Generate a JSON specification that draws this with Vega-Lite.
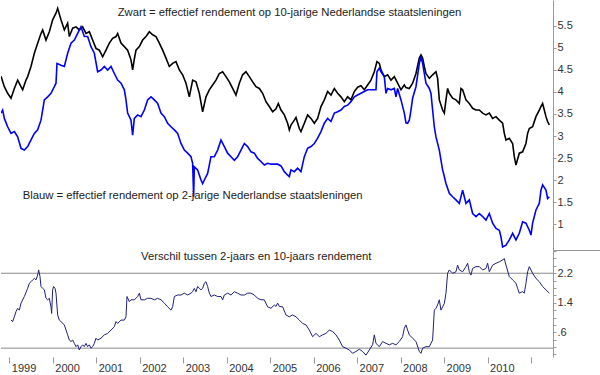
{
  "$schema": "https://vega.github.io/schema/vega-lite/v6.json",
  "padding": 0,
  "background": "white",
  "spacing": 0,
  "bounds": "flush",
  "config": {"view": {"stroke": null}, "font": "Liberation Sans"},
  "datasets": {
    "rendement": [
      {"reeks":"10-jarig","jaar":1998.809,"rendement":4.36},{"reeks":"10-jarig","jaar":1998.886,"rendement":4.12},{"reeks":"10-jarig","jaar":1998.962,"rendement":3.97},{"reeks":"10-jarig","jaar":1999.039,"rendement":3.86},{"reeks":"10-jarig","jaar":1999.116,"rendement":4.08},{"reeks":"10-jarig","jaar":1999.192,"rendement":4.27},{"reeks":"10-jarig","jaar":1999.269,"rendement":4.12},{"reeks":"10-jarig","jaar":1999.307,"rendement":4.05},{"reeks":"10-jarig","jaar":1999.384,"rendement":4.27},{"reeks":"10-jarig","jaar":1999.422,"rendement":4.35},{"reeks":"10-jarig","jaar":1999.499,"rendement":4.58},{"reeks":"10-jarig","jaar":1999.576,"rendement":4.88},{"reeks":"10-jarig","jaar":1999.652,"rendement":5.11},{"reeks":"10-jarig","jaar":1999.729,"rendement":5.33},{"reeks":"10-jarig","jaar":1999.767,"rendement":5.41},{"reeks":"10-jarig","jaar":1999.844,"rendement":5.18},{"reeks":"10-jarig","jaar":1999.921,"rendement":5.37},{"reeks":"10-jarig","jaar":1999.997,"rendement":5.64},{"reeks":"10-jarig","jaar":2000.074,"rendement":5.79},{"reeks":"10-jarig","jaar":2000.112,"rendement":5.9},{"reeks":"10-jarig","jaar":2000.189,"rendement":5.64},{"reeks":"10-jarig","jaar":2000.266,"rendement":5.41},{"reeks":"10-jarig","jaar":2000.342,"rendement":5.56},{"reeks":"10-jarig","jaar":2000.381,"rendement":5.26},{"reeks":"10-jarig","jaar":2000.457,"rendement":5.45},{"reeks":"10-jarig","jaar":2000.534,"rendement":5.48},{"reeks":"10-jarig","jaar":2000.611,"rendement":5.41},{"reeks":"10-jarig","jaar":2000.687,"rendement":5.48},{"reeks":"10-jarig","jaar":2000.764,"rendement":5.33},{"reeks":"10-jarig","jaar":2000.841,"rendement":5.37},{"reeks":"10-jarig","jaar":2000.917,"rendement":5.18},{"reeks":"10-jarig","jaar":2000.994,"rendement":4.99},{"reeks":"10-jarig","jaar":2001.071,"rendement":4.95},{"reeks":"10-jarig","jaar":2001.147,"rendement":4.8},{"reeks":"10-jarig","jaar":2001.224,"rendement":4.95},{"reeks":"10-jarig","jaar":2001.301,"rendement":5.11},{"reeks":"10-jarig","jaar":2001.377,"rendement":5.22},{"reeks":"10-jarig","jaar":2001.454,"rendement":5.26},{"reeks":"10-jarig","jaar":2001.492,"rendement":5.33},{"reeks":"10-jarig","jaar":2001.569,"rendement":5.11},{"reeks":"10-jarig","jaar":2001.646,"rendement":5.03},{"reeks":"10-jarig","jaar":2001.722,"rendement":4.95},{"reeks":"10-jarig","jaar":2001.799,"rendement":4.73},{"reeks":"10-jarig","jaar":2001.837,"rendement":4.5},{"reeks":"10-jarig","jaar":2001.876,"rendement":4.75},{"reeks":"10-jarig","jaar":2001.914,"rendement":4.95},{"reeks":"10-jarig","jaar":2001.991,"rendement":5.03},{"reeks":"10-jarig","jaar":2002.067,"rendement":5.18},{"reeks":"10-jarig","jaar":2002.144,"rendement":5.26},{"reeks":"10-jarig","jaar":2002.221,"rendement":5.37},{"reeks":"10-jarig","jaar":2002.297,"rendement":5.3},{"reeks":"10-jarig","jaar":2002.374,"rendement":5.26},{"reeks":"10-jarig","jaar":2002.451,"rendement":5.11},{"reeks":"10-jarig","jaar":2002.527,"rendement":4.95},{"reeks":"10-jarig","jaar":2002.604,"rendement":4.77},{"reeks":"10-jarig","jaar":2002.681,"rendement":4.58},{"reeks":"10-jarig","jaar":2002.757,"rendement":4.65},{"reeks":"10-jarig","jaar":2002.834,"rendement":4.69},{"reeks":"10-jarig","jaar":2002.911,"rendement":4.5},{"reeks":"10-jarig","jaar":2002.987,"rendement":4.39},{"reeks":"10-jarig","jaar":2003.064,"rendement":4.2},{"reeks":"10-jarig","jaar":2003.141,"rendement":3.89},{"reeks":"10-jarig","jaar":2003.217,"rendement":4.27},{"reeks":"10-jarig","jaar":2003.294,"rendement":4.23},{"reeks":"10-jarig","jaar":2003.371,"rendement":3.97},{"reeks":"10-jarig","jaar":2003.447,"rendement":3.55},{"reeks":"10-jarig","jaar":2003.524,"rendement":3.89},{"reeks":"10-jarig","jaar":2003.601,"rendement":4.05},{"reeks":"10-jarig","jaar":2003.677,"rendement":4.16},{"reeks":"10-jarig","jaar":2003.754,"rendement":4.27},{"reeks":"10-jarig","jaar":2003.831,"rendement":4.42},{"reeks":"10-jarig","jaar":2003.907,"rendement":4.46},{"reeks":"10-jarig","jaar":2003.984,"rendement":4.35},{"reeks":"10-jarig","jaar":2004.061,"rendement":4.23},{"reeks":"10-jarig","jaar":2004.137,"rendement":4.08},{"reeks":"10-jarig","jaar":2004.214,"rendement":3.93},{"reeks":"10-jarig","jaar":2004.291,"rendement":4.2},{"reeks":"10-jarig","jaar":2004.367,"rendement":4.39},{"reeks":"10-jarig","jaar":2004.444,"rendement":4.46},{"reeks":"10-jarig","jaar":2004.521,"rendement":4.35},{"reeks":"10-jarig","jaar":2004.597,"rendement":4.23},{"reeks":"10-jarig","jaar":2004.674,"rendement":4.12},{"reeks":"10-jarig","jaar":2004.751,"rendement":4.08},{"reeks":"10-jarig","jaar":2004.827,"rendement":3.97},{"reeks":"10-jarig","jaar":2004.904,"rendement":3.78},{"reeks":"10-jarig","jaar":2004.981,"rendement":3.67},{"reeks":"10-jarig","jaar":2005.057,"rendement":3.55},{"reeks":"10-jarig","jaar":2005.134,"rendement":3.62},{"reeks":"10-jarig","jaar":2005.188,"rendement":3.74},{"reeks":"10-jarig","jaar":2005.249,"rendement":3.59},{"reeks":"10-jarig","jaar":2005.326,"rendement":3.48},{"reeks":"10-jarig","jaar":2005.402,"rendement":3.29},{"reeks":"10-jarig","jaar":2005.441,"rendement":3.14},{"reeks":"10-jarig","jaar":2005.479,"rendement":3.25},{"reeks":"10-jarig","jaar":2005.556,"rendement":3.36},{"reeks":"10-jarig","jaar":2005.594,"rendement":3.42},{"reeks":"10-jarig","jaar":2005.671,"rendement":3.17},{"reeks":"10-jarig","jaar":2005.709,"rendement":3.1},{"reeks":"10-jarig","jaar":2005.786,"rendement":3.29},{"reeks":"10-jarig","jaar":2005.862,"rendement":3.48},{"reeks":"10-jarig","jaar":2005.939,"rendement":3.4},{"reeks":"10-jarig","jaar":2006.016,"rendement":3.29},{"reeks":"10-jarig","jaar":2006.092,"rendement":3.4},{"reeks":"10-jarig","jaar":2006.169,"rendement":3.67},{"reeks":"10-jarig","jaar":2006.246,"rendement":3.82},{"reeks":"10-jarig","jaar":2006.322,"rendement":4.01},{"reeks":"10-jarig","jaar":2006.399,"rendement":3.93},{"reeks":"10-jarig","jaar":2006.476,"rendement":4.08},{"reeks":"10-jarig","jaar":2006.552,"rendement":3.97},{"reeks":"10-jarig","jaar":2006.629,"rendement":3.89},{"reeks":"10-jarig","jaar":2006.706,"rendement":3.78},{"reeks":"10-jarig","jaar":2006.782,"rendement":3.89},{"reeks":"10-jarig","jaar":2006.859,"rendement":3.82},{"reeks":"10-jarig","jaar":2006.936,"rendement":4.01},{"reeks":"10-jarig","jaar":2007.012,"rendement":4.11},{"reeks":"10-jarig","jaar":2007.089,"rendement":4.14},{"reeks":"10-jarig","jaar":2007.166,"rendement":4.05},{"reeks":"10-jarig","jaar":2007.242,"rendement":4.16},{"reeks":"10-jarig","jaar":2007.319,"rendement":4.27},{"reeks":"10-jarig","jaar":2007.396,"rendement":4.46},{"reeks":"10-jarig","jaar":2007.457,"rendement":4.69},{"reeks":"10-jarig","jaar":2007.511,"rendement":4.65},{"reeks":"10-jarig","jaar":2007.549,"rendement":4.5},{"reeks":"10-jarig","jaar":2007.626,"rendement":4.35},{"reeks":"10-jarig","jaar":2007.702,"rendement":4.39},{"reeks":"10-jarig","jaar":2007.779,"rendement":4.27},{"reeks":"10-jarig","jaar":2007.856,"rendement":4.35},{"reeks":"10-jarig","jaar":2007.932,"rendement":4.2},{"reeks":"10-jarig","jaar":2008.009,"rendement":4.05},{"reeks":"10-jarig","jaar":2008.086,"rendement":4.16},{"reeks":"10-jarig","jaar":2008.124,"rendement":4.1},{"reeks":"10-jarig","jaar":2008.201,"rendement":4.08},{"reeks":"10-jarig","jaar":2008.277,"rendement":4.2},{"reeks":"10-jarig","jaar":2008.354,"rendement":4.42},{"reeks":"10-jarig","jaar":2008.431,"rendement":4.77},{"reeks":"10-jarig","jaar":2008.469,"rendement":4.84},{"reeks":"10-jarig","jaar":2008.507,"rendement":4.77},{"reeks":"10-jarig","jaar":2008.546,"rendement":4.58},{"reeks":"10-jarig","jaar":2008.584,"rendement":4.42},{"reeks":"10-jarig","jaar":2008.661,"rendement":4.31},{"reeks":"10-jarig","jaar":2008.737,"rendement":4.39},{"reeks":"10-jarig","jaar":2008.814,"rendement":4.46},{"reeks":"10-jarig","jaar":2008.852,"rendement":4.31},{"reeks":"10-jarig","jaar":2008.891,"rendement":3.82},{"reeks":"10-jarig","jaar":2008.967,"rendement":3.59},{"reeks":"10-jarig","jaar":2009.006,"rendement":3.52},{"reeks":"10-jarig","jaar":2009.044,"rendement":3.82},{"reeks":"10-jarig","jaar":2009.082,"rendement":4.08},{"reeks":"10-jarig","jaar":2009.121,"rendement":3.97},{"reeks":"10-jarig","jaar":2009.197,"rendement":3.86},{"reeks":"10-jarig","jaar":2009.274,"rendement":3.82},{"reeks":"10-jarig","jaar":2009.351,"rendement":3.74},{"reeks":"10-jarig","jaar":2009.389,"rendement":4.08},{"reeks":"10-jarig","jaar":2009.427,"rendement":4.05},{"reeks":"10-jarig","jaar":2009.504,"rendement":3.82},{"reeks":"10-jarig","jaar":2009.581,"rendement":3.74},{"reeks":"10-jarig","jaar":2009.657,"rendement":3.63},{"reeks":"10-jarig","jaar":2009.734,"rendement":3.59},{"reeks":"10-jarig","jaar":2009.811,"rendement":3.59},{"reeks":"10-jarig","jaar":2009.887,"rendement":3.52},{"reeks":"10-jarig","jaar":2009.964,"rendement":3.48},{"reeks":"10-jarig","jaar":2010.041,"rendement":3.52},{"reeks":"10-jarig","jaar":2010.117,"rendement":3.4},{"reeks":"10-jarig","jaar":2010.194,"rendement":3.44},{"reeks":"10-jarig","jaar":2010.271,"rendement":3.36},{"reeks":"10-jarig","jaar":2010.347,"rendement":3.29},{"reeks":"10-jarig","jaar":2010.386,"rendement":3.06},{"reeks":"10-jarig","jaar":2010.424,"rendement":2.91},{"reeks":"10-jarig","jaar":2010.501,"rendement":2.95},{"reeks":"10-jarig","jaar":2010.577,"rendement":2.83},{"reeks":"10-jarig","jaar":2010.616,"rendement":2.53},{"reeks":"10-jarig","jaar":2010.654,"rendement":2.34},{"reeks":"10-jarig","jaar":2010.731,"rendement":2.61},{"reeks":"10-jarig","jaar":2010.807,"rendement":2.64},{"reeks":"10-jarig","jaar":2010.884,"rendement":2.83},{"reeks":"10-jarig","jaar":2010.922,"rendement":3.06},{"reeks":"10-jarig","jaar":2010.961,"rendement":3.17},{"reeks":"10-jarig","jaar":2011.037,"rendement":3.21},{"reeks":"10-jarig","jaar":2011.114,"rendement":3.44},{"reeks":"10-jarig","jaar":2011.191,"rendement":3.59},{"reeks":"10-jarig","jaar":2011.229,"rendement":3.67},{"reeks":"10-jarig","jaar":2011.267,"rendement":3.74},{"reeks":"10-jarig","jaar":2011.306,"rendement":3.59},{"reeks":"10-jarig","jaar":2011.344,"rendement":3.44},{"reeks":"10-jarig","jaar":2011.382,"rendement":3.33},{"reeks":"10-jarig","jaar":2011.421,"rendement":3.25},
      {"reeks":"2-jarig","jaar":1998.809,"rendement":3.52},{"reeks":"2-jarig","jaar":1998.847,"rendement":3.59},{"reeks":"2-jarig","jaar":1998.886,"rendement":3.4},{"reeks":"2-jarig","jaar":1998.962,"rendement":3.21},{"reeks":"2-jarig","jaar":1999.039,"rendement":3.06},{"reeks":"2-jarig","jaar":1999.116,"rendement":3.1},{"reeks":"2-jarig","jaar":1999.192,"rendement":2.98},{"reeks":"2-jarig","jaar":1999.269,"rendement":2.72},{"reeks":"2-jarig","jaar":1999.346,"rendement":2.68},{"reeks":"2-jarig","jaar":1999.422,"rendement":2.76},{"reeks":"2-jarig","jaar":1999.499,"rendement":2.91},{"reeks":"2-jarig","jaar":1999.576,"rendement":3.06},{"reeks":"2-jarig","jaar":1999.652,"rendement":3.14},{"reeks":"2-jarig","jaar":1999.729,"rendement":3.36},{"reeks":"2-jarig","jaar":1999.806,"rendement":3.82},{"reeks":"2-jarig","jaar":1999.882,"rendement":3.89},{"reeks":"2-jarig","jaar":1999.959,"rendement":3.97},{"reeks":"2-jarig","jaar":2000.036,"rendement":4.12},{"reeks":"2-jarig","jaar":2000.074,"rendement":4.2},{"reeks":"2-jarig","jaar":2000.097,"rendement":4.65},{"reeks":"2-jarig","jaar":2000.189,"rendement":4.61},{"reeks":"2-jarig","jaar":2000.266,"rendement":4.58},{"reeks":"2-jarig","jaar":2000.342,"rendement":4.88},{"reeks":"2-jarig","jaar":2000.419,"rendement":5.11},{"reeks":"2-jarig","jaar":2000.496,"rendement":5.18},{"reeks":"2-jarig","jaar":2000.572,"rendement":5.33},{"reeks":"2-jarig","jaar":2000.649,"rendement":5.48},{"reeks":"2-jarig","jaar":2000.726,"rendement":5.26},{"reeks":"2-jarig","jaar":2000.802,"rendement":5.26},{"reeks":"2-jarig","jaar":2000.879,"rendement":5.03},{"reeks":"2-jarig","jaar":2000.956,"rendement":4.88},{"reeks":"2-jarig","jaar":2001.032,"rendement":4.46},{"reeks":"2-jarig","jaar":2001.109,"rendement":4.5},{"reeks":"2-jarig","jaar":2001.186,"rendement":4.58},{"reeks":"2-jarig","jaar":2001.262,"rendement":4.5},{"reeks":"2-jarig","jaar":2001.339,"rendement":4.58},{"reeks":"2-jarig","jaar":2001.416,"rendement":4.42},{"reeks":"2-jarig","jaar":2001.492,"rendement":4.27},{"reeks":"2-jarig","jaar":2001.569,"rendement":4.2},{"reeks":"2-jarig","jaar":2001.646,"rendement":4.05},{"reeks":"2-jarig","jaar":2001.684,"rendement":3.82},{"reeks":"2-jarig","jaar":2001.722,"rendement":3.52},{"reeks":"2-jarig","jaar":2001.799,"rendement":3.36},{"reeks":"2-jarig","jaar":2001.837,"rendement":3.02},{"reeks":"2-jarig","jaar":2001.876,"rendement":3.4},{"reeks":"2-jarig","jaar":2001.952,"rendement":3.48},{"reeks":"2-jarig","jaar":2002.029,"rendement":3.44},{"reeks":"2-jarig","jaar":2002.106,"rendement":3.59},{"reeks":"2-jarig","jaar":2002.182,"rendement":3.82},{"reeks":"2-jarig","jaar":2002.259,"rendement":3.89},{"reeks":"2-jarig","jaar":2002.336,"rendement":3.82},{"reeks":"2-jarig","jaar":2002.412,"rendement":3.74},{"reeks":"2-jarig","jaar":2002.489,"rendement":3.52},{"reeks":"2-jarig","jaar":2002.566,"rendement":3.44},{"reeks":"2-jarig","jaar":2002.642,"rendement":3.29},{"reeks":"2-jarig","jaar":2002.719,"rendement":3.21},{"reeks":"2-jarig","jaar":2002.796,"rendement":3.14},{"reeks":"2-jarig","jaar":2002.872,"rendement":3.06},{"reeks":"2-jarig","jaar":2002.949,"rendement":2.83},{"reeks":"2-jarig","jaar":2003.026,"rendement":2.68},{"reeks":"2-jarig","jaar":2003.102,"rendement":2.61},{"reeks":"2-jarig","jaar":2003.179,"rendement":2.53},{"reeks":"2-jarig","jaar":2003.217,"rendement":2.38},{"reeks":"2-jarig","jaar":2003.24,"rendement":1.62},{"reeks":"2-jarig","jaar":2003.256,"rendement":2.3},{"reeks":"2-jarig","jaar":2003.332,"rendement":2.23},{"reeks":"2-jarig","jaar":2003.409,"rendement":2.0},{"reeks":"2-jarig","jaar":2003.447,"rendement":1.92},{"reeks":"2-jarig","jaar":2003.486,"rendement":2.0},{"reeks":"2-jarig","jaar":2003.562,"rendement":2.15},{"reeks":"2-jarig","jaar":2003.639,"rendement":2.53},{"reeks":"2-jarig","jaar":2003.716,"rendement":2.53},{"reeks":"2-jarig","jaar":2003.792,"rendement":2.68},{"reeks":"2-jarig","jaar":2003.869,"rendement":2.91},{"reeks":"2-jarig","jaar":2003.946,"rendement":2.76},{"reeks":"2-jarig","jaar":2004.022,"rendement":2.61},{"reeks":"2-jarig","jaar":2004.099,"rendement":2.53},{"reeks":"2-jarig","jaar":2004.176,"rendement":2.45},{"reeks":"2-jarig","jaar":2004.252,"rendement":2.53},{"reeks":"2-jarig","jaar":2004.329,"rendement":2.68},{"reeks":"2-jarig","jaar":2004.406,"rendement":2.83},{"reeks":"2-jarig","jaar":2004.482,"rendement":2.76},{"reeks":"2-jarig","jaar":2004.559,"rendement":2.64},{"reeks":"2-jarig","jaar":2004.636,"rendement":2.61},{"reeks":"2-jarig","jaar":2004.712,"rendement":2.49},{"reeks":"2-jarig","jaar":2004.789,"rendement":2.42},{"reeks":"2-jarig","jaar":2004.866,"rendement":2.34},{"reeks":"2-jarig","jaar":2004.942,"rendement":2.38},{"reeks":"2-jarig","jaar":2005.019,"rendement":2.36},{"reeks":"2-jarig","jaar":2005.096,"rendement":2.36},{"reeks":"2-jarig","jaar":2005.172,"rendement":2.36},{"reeks":"2-jarig","jaar":2005.249,"rendement":2.32},{"reeks":"2-jarig","jaar":2005.326,"rendement":2.19},{"reeks":"2-jarig","jaar":2005.402,"rendement":2.11},{"reeks":"2-jarig","jaar":2005.441,"rendement":2.08},{"reeks":"2-jarig","jaar":2005.479,"rendement":2.23},{"reeks":"2-jarig","jaar":2005.556,"rendement":2.19},{"reeks":"2-jarig","jaar":2005.632,"rendement":2.27},{"reeks":"2-jarig","jaar":2005.709,"rendement":2.19},{"reeks":"2-jarig","jaar":2005.786,"rendement":2.53},{"reeks":"2-jarig","jaar":2005.862,"rendement":2.72},{"reeks":"2-jarig","jaar":2005.939,"rendement":2.76},{"reeks":"2-jarig","jaar":2006.016,"rendement":2.83},{"reeks":"2-jarig","jaar":2006.092,"rendement":2.95},{"reeks":"2-jarig","jaar":2006.169,"rendement":3.1},{"reeks":"2-jarig","jaar":2006.246,"rendement":3.29},{"reeks":"2-jarig","jaar":2006.322,"rendement":3.4},{"reeks":"2-jarig","jaar":2006.399,"rendement":3.33},{"reeks":"2-jarig","jaar":2006.476,"rendement":3.52},{"reeks":"2-jarig","jaar":2006.552,"rendement":3.55},{"reeks":"2-jarig","jaar":2006.629,"rendement":3.59},{"reeks":"2-jarig","jaar":2006.706,"rendement":3.67},{"reeks":"2-jarig","jaar":2006.782,"rendement":3.7},{"reeks":"2-jarig","jaar":2006.859,"rendement":3.78},{"reeks":"2-jarig","jaar":2006.936,"rendement":3.89},{"reeks":"2-jarig","jaar":2007.012,"rendement":3.93},{"reeks":"2-jarig","jaar":2007.089,"rendement":3.97},{"reeks":"2-jarig","jaar":2007.166,"rendement":4.01},{"reeks":"2-jarig","jaar":2007.242,"rendement":4.05},{"reeks":"2-jarig","jaar":2007.434,"rendement":4.05},{"reeks":"2-jarig","jaar":2007.457,"rendement":4.46},{"reeks":"2-jarig","jaar":2007.511,"rendement":4.54},{"reeks":"2-jarig","jaar":2007.549,"rendement":4.46},{"reeks":"2-jarig","jaar":2007.626,"rendement":4.35},{"reeks":"2-jarig","jaar":2007.664,"rendement":3.97},{"reeks":"2-jarig","jaar":2007.702,"rendement":4.08},{"reeks":"2-jarig","jaar":2007.779,"rendement":4.05},{"reeks":"2-jarig","jaar":2007.856,"rendement":4.08},{"reeks":"2-jarig","jaar":2007.894,"rendement":3.89},{"reeks":"2-jarig","jaar":2007.932,"rendement":4.08},{"reeks":"2-jarig","jaar":2008.009,"rendement":3.82},{"reeks":"2-jarig","jaar":2008.086,"rendement":3.52},{"reeks":"2-jarig","jaar":2008.124,"rendement":3.3},{"reeks":"2-jarig","jaar":2008.162,"rendement":3.29},{"reeks":"2-jarig","jaar":2008.201,"rendement":3.36},{"reeks":"2-jarig","jaar":2008.239,"rendement":3.59},{"reeks":"2-jarig","jaar":2008.277,"rendement":3.86},{"reeks":"2-jarig","jaar":2008.354,"rendement":4.12},{"reeks":"2-jarig","jaar":2008.431,"rendement":4.65},{"reeks":"2-jarig","jaar":2008.469,"rendement":4.8},{"reeks":"2-jarig","jaar":2008.507,"rendement":4.65},{"reeks":"2-jarig","jaar":2008.584,"rendement":4.2},{"reeks":"2-jarig","jaar":2008.661,"rendement":4.08},{"reeks":"2-jarig","jaar":2008.699,"rendement":3.97},{"reeks":"2-jarig","jaar":2008.737,"rendement":3.59},{"reeks":"2-jarig","jaar":2008.776,"rendement":3.21},{"reeks":"2-jarig","jaar":2008.814,"rendement":2.98},{"reeks":"2-jarig","jaar":2008.891,"rendement":2.68},{"reeks":"2-jarig","jaar":2008.929,"rendement":2.45},{"reeks":"2-jarig","jaar":2008.967,"rendement":2.23},{"reeks":"2-jarig","jaar":2009.006,"rendement":2.08},{"reeks":"2-jarig","jaar":2009.044,"rendement":1.92},{"reeks":"2-jarig","jaar":2009.121,"rendement":1.7},{"reeks":"2-jarig","jaar":2009.197,"rendement":1.62},{"reeks":"2-jarig","jaar":2009.274,"rendement":1.55},{"reeks":"2-jarig","jaar":2009.351,"rendement":1.47},{"reeks":"2-jarig","jaar":2009.427,"rendement":1.77},{"reeks":"2-jarig","jaar":2009.466,"rendement":1.62},{"reeks":"2-jarig","jaar":2009.504,"rendement":1.47},{"reeks":"2-jarig","jaar":2009.581,"rendement":1.55},{"reeks":"2-jarig","jaar":2009.657,"rendement":1.24},{"reeks":"2-jarig","jaar":2009.734,"rendement":1.17},{"reeks":"2-jarig","jaar":2009.811,"rendement":1.24},{"reeks":"2-jarig","jaar":2009.887,"rendement":1.17},{"reeks":"2-jarig","jaar":2009.964,"rendement":1.09},{"reeks":"2-jarig","jaar":2010.041,"rendement":1.24},{"reeks":"2-jarig","jaar":2010.117,"rendement":1.02},{"reeks":"2-jarig","jaar":2010.194,"rendement":0.9},{"reeks":"2-jarig","jaar":2010.271,"rendement":0.86},{"reeks":"2-jarig","jaar":2010.309,"rendement":0.71},{"reeks":"2-jarig","jaar":2010.347,"rendement":0.48},{"reeks":"2-jarig","jaar":2010.424,"rendement":0.52},{"reeks":"2-jarig","jaar":2010.501,"rendement":0.64},{"reeks":"2-jarig","jaar":2010.577,"rendement":0.79},{"reeks":"2-jarig","jaar":2010.654,"rendement":0.64},{"reeks":"2-jarig","jaar":2010.731,"rendement":0.79},{"reeks":"2-jarig","jaar":2010.807,"rendement":1.05},{"reeks":"2-jarig","jaar":2010.884,"rendement":1.02},{"reeks":"2-jarig","jaar":2010.961,"rendement":0.86},{"reeks":"2-jarig","jaar":2010.999,"rendement":0.75},{"reeks":"2-jarig","jaar":2011.037,"rendement":1.02},{"reeks":"2-jarig","jaar":2011.114,"rendement":1.32},{"reeks":"2-jarig","jaar":2011.191,"rendement":1.47},{"reeks":"2-jarig","jaar":2011.229,"rendement":1.77},{"reeks":"2-jarig","jaar":2011.267,"rendement":1.89},{"reeks":"2-jarig","jaar":2011.344,"rendement":1.77},{"reeks":"2-jarig","jaar":2011.382,"rendement":1.58},{"reeks":"2-jarig","jaar":2011.421,"rendement":1.62}
    ],
    "verschil": [
      {"jaar":1999.039,"verschil":0.93},{"jaar":1999.077,"verschil":0.89},{"jaar":1999.116,"verschil":1.02},{"jaar":1999.154,"verschil":1.16},{"jaar":1999.192,"verschil":1.25},{"jaar":1999.231,"verschil":1.2},{"jaar":1999.269,"verschil":1.39},{"jaar":1999.346,"verschil":1.57},{"jaar":1999.422,"verschil":1.79},{"jaar":1999.461,"verschil":1.93},{"jaar":1999.499,"verschil":1.97},{"jaar":1999.537,"verschil":2.02},{"jaar":1999.576,"verschil":2.06},{"jaar":1999.614,"verschil":2.02},{"jaar":1999.652,"verschil":2.15},{"jaar":1999.675,"verschil":2.29},{"jaar":1999.706,"verschil":2.11},{"jaar":1999.729,"verschil":1.84},{"jaar":1999.767,"verschil":1.79},{"jaar":1999.806,"verschil":1.75},{"jaar":1999.844,"verschil":1.52},{"jaar":1999.882,"verschil":1.48},{"jaar":1999.921,"verschil":1.52},{"jaar":1999.959,"verschil":1.29},{"jaar":1999.974,"verschil":1.11},{"jaar":1999.997,"verschil":1.75},{"jaar":2000.02,"verschil":1.84},{"jaar":2000.051,"verschil":1.79},{"jaar":2000.074,"verschil":1.66},{"jaar":2000.112,"verschil":1.07},{"jaar":2000.151,"verschil":0.93},{"jaar":2000.189,"verschil":0.89},{"jaar":2000.266,"verschil":0.8},{"jaar":2000.342,"verschil":0.53},{"jaar":2000.381,"verschil":0.39},{"jaar":2000.419,"verschil":0.35},{"jaar":2000.457,"verschil":0.39},{"jaar":2000.496,"verschil":0.3},{"jaar":2000.534,"verschil":0.21},{"jaar":2000.572,"verschil":0.26},{"jaar":2000.611,"verschil":0.12},{"jaar":2000.649,"verschil":0.21},{"jaar":2000.687,"verschil":0.26},{"jaar":2000.726,"verschil":0.21},{"jaar":2000.764,"verschil":0.3},{"jaar":2000.802,"verschil":0.21},{"jaar":2000.841,"verschil":0.26},{"jaar":2000.879,"verschil":0.17},{"jaar":2000.917,"verschil":0.21},{"jaar":2000.956,"verschil":0.3},{"jaar":2000.994,"verschil":0.44},{"jaar":2001.032,"verschil":0.39},{"jaar":2001.109,"verschil":0.44},{"jaar":2001.186,"verschil":0.53},{"jaar":2001.262,"verschil":0.57},{"jaar":2001.339,"verschil":0.66},{"jaar":2001.416,"verschil":0.75},{"jaar":2001.454,"verschil":0.89},{"jaar":2001.492,"verschil":0.84},{"jaar":2001.569,"verschil":0.93},{"jaar":2001.646,"verschil":0.93},{"jaar":2001.684,"verschil":1.02},{"jaar":2001.707,"verschil":1.57},{"jaar":2001.761,"verschil":1.43},{"jaar":2001.799,"verschil":1.48},{"jaar":2001.876,"verschil":1.48},{"jaar":2001.952,"verschil":1.57},{"jaar":2001.991,"verschil":1.66},{"jaar":2002.029,"verschil":1.48},{"jaar":2002.106,"verschil":1.48},{"jaar":2002.182,"verschil":1.52},{"jaar":2002.259,"verschil":1.52},{"jaar":2002.336,"verschil":1.48},{"jaar":2002.412,"verschil":1.52},{"jaar":2002.489,"verschil":1.48},{"jaar":2002.566,"verschil":1.39},{"jaar":2002.642,"verschil":1.29},{"jaar":2002.719,"verschil":1.2},{"jaar":2002.757,"verschil":1.29},{"jaar":2002.796,"verschil":1.57},{"jaar":2002.872,"verschil":1.61},{"jaar":2002.949,"verschil":1.61},{"jaar":2003.026,"verschil":1.66},{"jaar":2003.102,"verschil":1.61},{"jaar":2003.179,"verschil":1.66},{"jaar":2003.217,"verschil":1.7},{"jaar":2003.256,"verschil":1.79},{"jaar":2003.294,"verschil":1.7},{"jaar":2003.332,"verschil":1.84},{"jaar":2003.409,"verschil":1.75},{"jaar":2003.447,"verschil":1.79},{"jaar":2003.486,"verschil":1.93},{"jaar":2003.524,"verschil":1.97},{"jaar":2003.562,"verschil":1.84},{"jaar":2003.601,"verschil":1.66},{"jaar":2003.639,"verschil":1.57},{"jaar":2003.716,"verschil":1.61},{"jaar":2003.792,"verschil":1.57},{"jaar":2003.869,"verschil":1.57},{"jaar":2003.907,"verschil":1.48},{"jaar":2003.946,"verschil":1.61},{"jaar":2004.022,"verschil":1.66},{"jaar":2004.099,"verschil":1.61},{"jaar":2004.176,"verschil":1.7},{"jaar":2004.252,"verschil":1.66},{"jaar":2004.329,"verschil":1.61},{"jaar":2004.406,"verschil":1.61},{"jaar":2004.482,"verschil":1.66},{"jaar":2004.559,"verschil":1.66},{"jaar":2004.636,"verschil":1.61},{"jaar":2004.712,"verschil":1.52},{"jaar":2004.789,"verschil":1.48},{"jaar":2004.866,"verschil":1.48},{"jaar":2004.942,"verschil":1.29},{"jaar":2005.019,"verschil":1.25},{"jaar":2005.096,"verschil":1.34},{"jaar":2005.134,"verschil":1.3},{"jaar":2005.172,"verschil":1.39},{"jaar":2005.211,"verschil":1.3},{"jaar":2005.287,"verschil":1.29},{"jaar":2005.364,"verschil":1.07},{"jaar":2005.441,"verschil":1.02},{"jaar":2005.517,"verschil":1.07},{"jaar":2005.594,"verschil":1.02},{"jaar":2005.671,"verschil":0.93},{"jaar":2005.747,"verschil":0.84},{"jaar":2005.824,"verschil":0.8},{"jaar":2005.901,"verschil":0.66},{"jaar":2005.977,"verschil":0.48},{"jaar":2006.054,"verschil":0.57},{"jaar":2006.131,"verschil":0.48},{"jaar":2006.207,"verschil":0.53},{"jaar":2006.284,"verschil":0.57},{"jaar":2006.361,"verschil":0.66},{"jaar":2006.437,"verschil":0.62},{"jaar":2006.514,"verschil":0.53},{"jaar":2006.591,"verschil":0.39},{"jaar":2006.667,"verschil":0.21},{"jaar":2006.744,"verschil":0.17},{"jaar":2006.821,"verschil":0.12},{"jaar":2006.897,"verschil":0.03},{"jaar":2006.974,"verschil":0.08},{"jaar":2007.051,"verschil":0.14},{"jaar":2007.127,"verschil":0.08},{"jaar":2007.204,"verschil":-0.02},{"jaar":2007.281,"verschil":0.12},{"jaar":2007.357,"verschil":0.26},{"jaar":2007.396,"verschil":0.53},{"jaar":2007.434,"verschil":0.3},{"jaar":2007.511,"verschil":0.21},{"jaar":2007.587,"verschil":0.35},{"jaar":2007.664,"verschil":0.3},{"jaar":2007.741,"verschil":0.26},{"jaar":2007.817,"verschil":0.3},{"jaar":2007.894,"verschil":0.26},{"jaar":2007.971,"verschil":0.35},{"jaar":2008.047,"verschil":0.48},{"jaar":2008.086,"verschil":0.71},{"jaar":2008.124,"verschil":0.8},{"jaar":2008.162,"verschil":0.66},{"jaar":2008.201,"verschil":0.53},{"jaar":2008.277,"verschil":0.44},{"jaar":2008.354,"verschil":0.35},{"jaar":2008.431,"verschil":0.08},{"jaar":2008.469,"verschil":0.03},{"jaar":2008.507,"verschil":0.17},{"jaar":2008.584,"verschil":0.21},{"jaar":2008.661,"verschil":0.21},{"jaar":2008.737,"verschil":0.39},{"jaar":2008.776,"verschil":1.2},{"jaar":2008.814,"verschil":1.25},{"jaar":2008.852,"verschil":1.34},{"jaar":2008.891,"verschil":1.48},{"jaar":2008.929,"verschil":1.2},{"jaar":2008.967,"verschil":1.29},{"jaar":2009.006,"verschil":1.38},{"jaar":2009.044,"verschil":1.66},{"jaar":2009.082,"verschil":2.2},{"jaar":2009.121,"verschil":2.29},{"jaar":2009.197,"verschil":2.2},{"jaar":2009.274,"verschil":2.24},{"jaar":2009.312,"verschil":2.42},{"jaar":2009.351,"verschil":2.29},{"jaar":2009.427,"verschil":2.24},{"jaar":2009.504,"verschil":2.38},{"jaar":2009.542,"verschil":2.47},{"jaar":2009.581,"verschil":2.24},{"jaar":2009.619,"verschil":2.15},{"jaar":2009.657,"verschil":2.33},{"jaar":2009.734,"verschil":2.38},{"jaar":2009.811,"verschil":2.38},{"jaar":2009.887,"verschil":2.29},{"jaar":2009.964,"verschil":2.33},{"jaar":2010.002,"verschil":2.47},{"jaar":2010.041,"verschil":2.24},{"jaar":2010.117,"verschil":2.42},{"jaar":2010.194,"verschil":2.47},{"jaar":2010.271,"verschil":2.51},{"jaar":2010.347,"verschil":2.56},{"jaar":2010.386,"verschil":2.6},{"jaar":2010.424,"verschil":2.42},{"jaar":2010.501,"verschil":2.11},{"jaar":2010.577,"verschil":2.02},{"jaar":2010.654,"verschil":1.93},{"jaar":2010.692,"verschil":1.79},{"jaar":2010.731,"verschil":1.66},{"jaar":2010.807,"verschil":1.7},{"jaar":2010.846,"verschil":1.66},{"jaar":2010.884,"verschil":1.93},{"jaar":2010.922,"verschil":2.24},{"jaar":2010.961,"verschil":2.38},{"jaar":2011.037,"verschil":2.2},{"jaar":2011.114,"verschil":2.06},{"jaar":2011.191,"verschil":1.97},{"jaar":2011.267,"verschil":1.84},{"jaar":2011.344,"verschil":1.75},{"jaar":2011.421,"verschil":1.66}
    ],
    "teksten": [
      {"paneel":"boven","jaar":2001.493,"waarde":5.8,"tekst":"Zwart = effectief rendement op 10-jarige Nederlandse staatsleningen"},
      {"paneel":"boven","jaar":1999.308,"waarde":1.636,"tekst":"Blauw = effectief rendement op 2-jarige Nederlandse staatsleningen"},
      {"paneel":"onder","jaar":2002.029,"waarde":2.649,"tekst":"Verschil tussen 2-jaars en 10-jaars rendement"}
    ],
    "lijnen": [{"niveau":2.2},{"niveau":0.17}]
  },
  "vconcat": [
    {
      "width": 552,
      "height": 250,
      "layer": [
        {
          "data": {"name": "rendement"},
          "mark": {"type": "line", "strokeWidth": 1.6, "clip": true},
          "encoding": {
            "x": {"field": "jaar", "type": "quantitative", "scale": {"domain": [1998.809, 2011.506], "nice": false, "zero": false}, "axis": null},
            "y": {"field": "rendement", "type": "quantitative", "scale": {"domain": [0.41, 6.09], "nice": false, "zero": false},
                  "axis": {"orient": "right", "values": [1,1.5,2,2.5,3,3.5,4,4.5,5,5.5], "tickCount": 1000, "format": "~g", "title": null, "grid": false,
                           "domainColor": "#999999", "tickColor": "#999999", "tickSize": 3, "labelPadding": 1, "labelOverlap": false,
                           "labelFontSize": 11, "labelColor": "#333333", "labelFont": "Liberation Sans"}},
            "color": {"field": "reeks", "type": "nominal", "scale": {"domain": ["10-jarig", "2-jarig"], "range": ["#000000", "#0000ff"]}, "legend": null}
          }
        },
        {
          "data": {"name": "teksten"},
          "transform": [{"filter": "datum.paneel == 'boven'"}],
          "mark": {"type": "text", "align": "left", "baseline": "middle", "fontSize": 11.3, "font": "Liberation Sans", "color": "#222222"},
          "encoding": {
            "x": {"field": "jaar", "type": "quantitative", "scale": {"domain": [1998.809, 2011.506], "nice": false, "zero": false}},
            "y": {"field": "waarde", "type": "quantitative", "scale": {"domain": [0.41, 6.09], "nice": false, "zero": false}},
            "text": {"field": "tekst"}
          }
        }
      ]
    },
    {
      "width": 552,
      "height": 107,
      "layer": [
        {
          "data": {"name": "lijnen"},
          "mark": {"type": "rule", "color": "#888888", "strokeWidth": 1},
          "encoding": {
            "y": {"field": "niveau", "type": "quantitative", "scale": {"domain": [-0.07, 2.83], "nice": false, "zero": false}}
          }
        },
        {
          "data": {"name": "verschil"},
          "mark": {"type": "line", "strokeWidth": 1, "color": "#1f1f7a", "clip": true},
          "encoding": {
            "x": {"field": "jaar", "type": "quantitative", "scale": {"domain": [1998.809, 2011.506], "nice": false, "zero": false},
                  "axis": {"orient": "bottom", "values": [1999,2000,2001,2002,2003,2004,2005,2006,2007,2008,2009,2010,2011], "tickCount": 1000,
                           "labelExpr": "datum.value == 2011 ? '' : format(datum.value, 'd')", "title": null, "grid": false, "domain": false,
                           "tickColor": "#999999", "tickSize": 6, "labelAlign": "left", "labelBaseline": "top", "labelPadding": -1, "labelOffset": 2,
                           "labelFontSize": 11, "labelColor": "#333333", "labelFont": "Liberation Sans", "labelFlush": false, "labelOverlap": false}},
            "y": {"field": "verschil", "type": "quantitative", "scale": {"domain": [-0.07, 2.83], "nice": false, "zero": false},
                  "axis": {"orient": "right", "values": [0,0.2,0.4,0.6,0.8,1,1.2,1.4,1.6,1.8,2,2.2,2.4,2.6,2.8,2.83], "tickCount": 1000,
                           "labelExpr": "abs(datum.value - 0.6) < 0.01 ? '.6' : abs(datum.value - 1.4) < 0.01 ? '1.4' : abs(datum.value - 2.2) < 0.01 ? '2.2' : ''",
                           "title": null, "grid": false, "domainColor": "#999999", "tickColor": "#999999",
                           "tickSize": {"condition": {"test": "datum.value > 2.82", "value": 48}, "value": 3},
                           "labelPadding": 1, "labelFontSize": 11, "labelColor": "#333333", "labelFont": "Liberation Sans", "labelOverlap": false}}
          }
        },
        {
          "data": {"name": "teksten"},
          "transform": [{"filter": "datum.paneel == 'onder'"}],
          "mark": {"type": "text", "align": "left", "baseline": "middle", "fontSize": 11.3, "font": "Liberation Sans", "color": "#222222"},
          "encoding": {
            "x": {"field": "jaar", "type": "quantitative", "scale": {"domain": [1998.809, 2011.506], "nice": false, "zero": false}},
            "y": {"field": "waarde", "type": "quantitative", "scale": {"domain": [-0.07, 2.83], "nice": false, "zero": false}},
            "text": {"field": "tekst"}
          }
        }
      ]
    }
  ]
}
